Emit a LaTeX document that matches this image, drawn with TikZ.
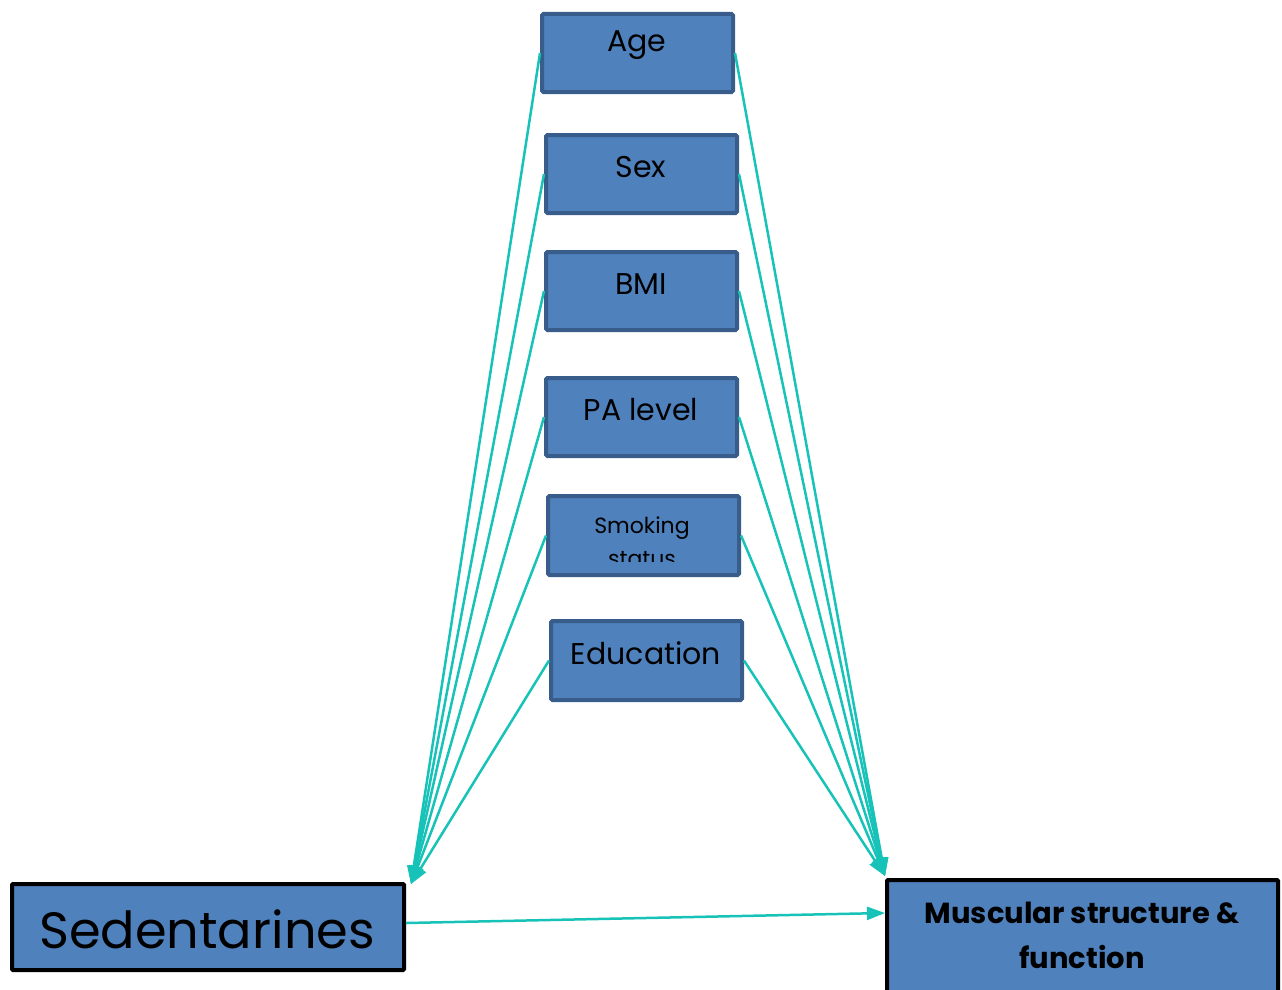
\documentclass[tikz,border=0pt]{standalone}
\usepackage{fontspec}
\setmainfont{Poppins}
\usetikzlibrary{arrows.meta}
\definecolor{boxfill}{HTML}{4F81BD}
\definecolor{boxline}{HTML}{385D8A}
\definecolor{arr}{HTML}{17C3B8}
\tikzset{
  fbox/.style={draw=boxline, line width=4pt, fill=boxfill, rounded corners=1.5pt, minimum width=191pt, minimum height=78pt, inner sep=0pt},
  bbox/.style={draw=black, line width=4pt, fill=boxfill, rounded corners=1pt, inner sep=0pt},
  lbl/.style={font=\fontsize{30}{33}\selectfont, inner sep=0pt},
  conn/.style={draw=arr, line width=2.5pt, -{Triangle[length=18pt, width=13pt]}},
}
\begin{document}
\begin{tikzpicture}[x=1pt,y=-1pt]
\useasboundingbox (0,0) rectangle (1282,990);
\node[fbox] (age) at (637.5,53) {};
\node[fbox] (sex) at (641.5,174) {};
\node[fbox] (bmi) at (641.5,291) {};
\node[fbox] (pa) at (641.5,417) {};
\node[fbox, minimum height=79pt] (smk) at (643.5,535.5) {};
\node[fbox, minimum height=79pt] (edu) at (646.5,660.5) {};
\node[bbox, minimum width=392pt, minimum height=86pt] (sed) at (208,927) {};
\node[bbox, minimum width=391pt, minimum height=112pt] (mus) at (1082.5,936) {};

\node[lbl] (agetxt) at (637,45) {Age};
\node[lbl] (sextxt) at (641,167) {Sex};
\node[lbl] (bmitxt) at (641,284) {BMI};
\node[lbl] (patxt) at (641,410) {PA level};
\node[lbl] (edutxt) at (646,653) {Education};
\begin{scope}
\clip (548,496) rectangle (739,561);
\node[font=\fontsize{22}{33}\selectfont, align=center, inner sep=0pt, anchor=north] (smktxt) at (642,517) {Smoking\\status};
\end{scope}
\node[font=\fontsize{51}{56}\selectfont, inner sep=0pt] (sedtxt) at (207,929) {Sedentarines};
\node[font=\bfseries\fontsize{29}{45}\selectfont, align=center, inner sep=0pt] (mustxt) at (1082,935) {Muscular structure \&\\function};

\coordinate (lt) at (411,884);
\coordinate (rt) at (885,876);
\draw[conn] (age.west) -- (lt);
\draw[conn] (sex.west) -- (lt);
\draw[conn] (bmi.west) -- (lt);
\draw[conn] (pa.west) -- (lt);
\draw[conn] (smk.west) -- (lt);
\draw[conn] (edu.west) -- (lt);
\draw[conn] (age.east) -- (rt);
\draw[conn] (sex.east) -- (rt);
\draw[conn] (bmi.east) -- (rt);
\draw[conn] (pa.east) -- (rt);
\draw[conn] (smk.east) -- (rt);
\draw[conn] (edu.east) -- (rt);
\draw[conn] (sed.east |- 0,923) -- (mus.west |- 0,913);
\end{tikzpicture}
\end{document}
